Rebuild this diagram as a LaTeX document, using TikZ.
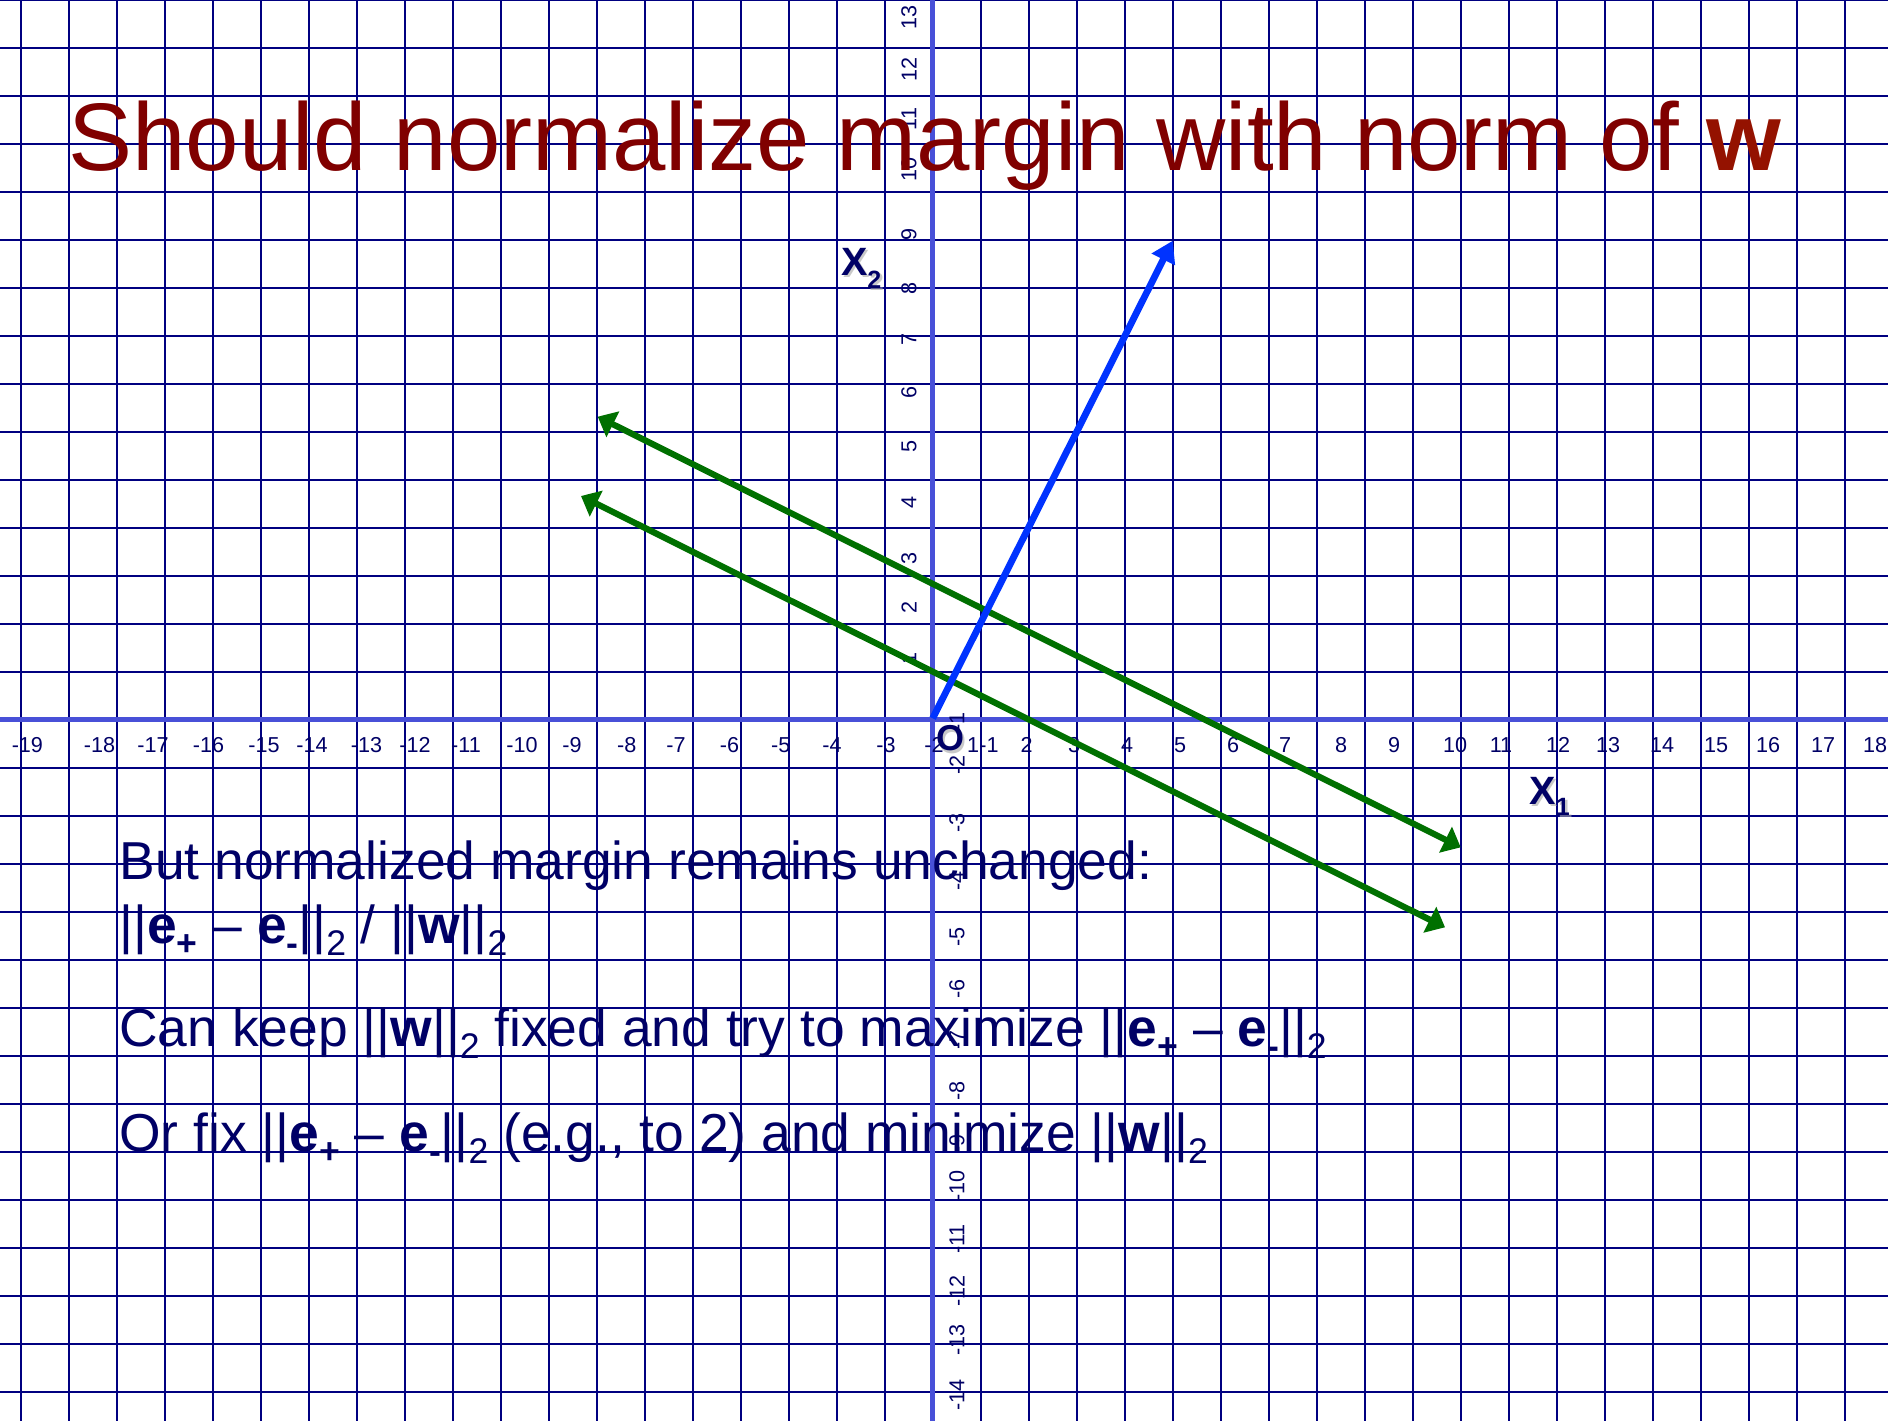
\documentclass[tikz,border=0pt]{standalone}
\usepackage{fontspec}
\setmainfont{Liberation Sans}
\usepackage{graphicx}
\usetikzlibrary{arrows.meta}
\definecolor{gridc}{RGB}{0,0,128}
\definecolor{axisc}{RGB}{72,80,216}
\definecolor{titlec}{RGB}{128,0,0}
\definecolor{titlew}{RGB}{148,18,0}
\definecolor{txtc}{RGB}{0,0,102}
\definecolor{greenc}{RGB}{0,112,0}
\definecolor{bluec}{RGB}{0,51,255}
\newcommand\mysub[1]{\raisebox{-6pt}{\fontsize{17.8pt}{20pt}\selectfont #1}}
\tikzset{
  gridline/.style={draw=gridc, line width=1.1pt},
  axisline/.style={draw=axisc, line width=2.5pt},
  xtick/.style={font=\fontsize{10.8pt}{12pt}\selectfont, text=txtc, inner sep=0pt},
  ytick/.style={xtick, rotate=90},
  bodytext/.style={anchor=base west, inner sep=0pt, text=txtc, font=\fontsize{26.7pt}{32pt}\selectfont},
  axlabel/.style={anchor=base west, inner sep=0pt, font=\bfseries\fontsize{19.75pt}{24pt}\selectfont},
  greenarrow/.style={draw=greenc, line width=3.1pt, {Triangle[length=8.5pt,width=14pt]}-{Triangle[length=8.5pt,width=14pt]}},
  bluearrow/.style={draw=bluec, line width=3.4pt, -{Triangle[length=10.5pt,width=12.5pt]}}
}
\begin{document}
\begin{tikzpicture}[x=0.5pt,y=-0.5pt]
\useasboundingbox (0,0) rectangle (1888,1421);
\fill[white] (0,0) rectangle (1888,1421);
\clip (0,0) rectangle (1888,1421);
% grid
\foreach \k in {0,...,38} \path[gridline] ({20.7+48*\k},0) -- ({20.7+48*\k},1421);
\foreach \k in {0,...,29} \path[gridline] (0,{48*\k-0.2}) -- (1888,{48*\k-0.2});
% axes
\path[axisline] (0,719.5) -- (1888,719.5);
\path[axisline] (932.7,0) -- (932.7,1421);
% x tick labels
\foreach \v/\x in {-19/27.4, -18/99.5, -17/153, -16/208.6, -15/264, -14/312, -13/366.6, -12/415, -11/466, -10/522, -9/572, -8/626.8, -7/675.9, -6/729.5, -5/780.8, -4/832, -3/886, -2/934, 1/973, -1/989, 2/1026.5, 3/1074, 4/1127, 5/1180, 6/1233, 7/1285, 8/1341, 9/1394, 10/1455, 11/1501, 12/1558, 13/1608, 14/1662, 15/1716, 16/1768, 17/1823, 18/1875}
  \node[xtick] (xt\v) at (\x,745) {\v};
% y tick labels
\foreach \v/\y in {13/17.9, 12/69.2, 11/119, 10/169.6, 9/234.4, 8/288, 7/339.3, 6/392.9, 5/446.4, 4/502.2, 3/558, 2/607, 1/658}
  \node[ytick] (yt\v) at (909,\y) {\v};
\foreach \v/\y in {-1/722, -2/765, -3/823, -4/881, -5/937, -6/989, -7/1040, -8/1091, -9/1144, -10/1186, -11/1239, -12/1291, -13/1340, -14/1395}
  \node[ytick] (yt\v) at (957,\y) {\v};
% title
\node[anchor=base west, inner sep=0pt, text=titlec, font=\fontsize{48pt}{58pt}\selectfont] (title) at (68,170.7) {Should normalize margin with norm of \textcolor{titlew}{\textbf{w}}};
% arrows
\coordinate (gup1) at (597.7,416.7);
\coordinate (gup2) at (1460.7,847.3);
\coordinate (glo1) at (581,496);
\coordinate (glo2) at (1445,927.3);
\coordinate (o) at (932.7,718.3);
\coordinate (wtip) at (1172.7,240.7);
\path[greenarrow] (gup1) -- (gup2);
\path[greenarrow] (glo1) -- (glo2);
\path[bluearrow] (o) -- (wtip);
% axis labels with shadows
\node[axlabel, text=black!35, opacity=0.6] (x2s) at (843,277.5) {X\raisebox{-6.5pt}{\fontsize{12.5pt}{14pt}\selectfont 2}};
\node[axlabel, text=txtc] (x2) at (840.7,275) {X\raisebox{-6.5pt}{\fontsize{12.5pt}{14pt}\selectfont 2}};
\node[axlabel, text=black!35, opacity=0.6] (x1s) at (1531.5,806.5) {X\raisebox{-5.5pt}{\fontsize{12.5pt}{14pt}\selectfont 1}};
\node[axlabel, text=txtc] (x1) at (1529,804) {X\raisebox{-5.5pt}{\fontsize{12.5pt}{14pt}\selectfont 1}};
\node[anchor=base west, inner sep=0pt, font=\bfseries\fontsize{18pt}{21pt}\selectfont, text=black!35, opacity=0.6] (os) at (938.5,753) {O};
\node[anchor=base west, inner sep=0pt, font=\bfseries\fontsize{18pt}{21pt}\selectfont, text=txtc] (orig) at (936,750.5) {O};
% body text
\node[bodytext] (l1) at (119,879.3) {But normalized margin remains unchanged:};
\node[bodytext] (l2) at (119,943) {||\textbf{e}\mysub{\textbf{+}} – \textbf{e}\mysub{\textbf{-}}||\mysub{2} / ||\textbf{w}||\mysub{2}};
\node[bodytext] (l3) at (119,1046.7) {Can keep ||\textbf{w}||\mysub{2} fixed and try to maximize ||\textbf{e}\mysub{\textbf{+}} – \textbf{e}\mysub{\textbf{-}}||\mysub{2}};
\node[bodytext] (l4) at (119,1151.7) {Or fix ||\textbf{e}\mysub{\textbf{+}} – \textbf{e}\mysub{\textbf{-}}||\mysub{2} (e.g., to 2) and minimize ||\textbf{w}||\mysub{2}};
\end{tikzpicture}
\end{document}
